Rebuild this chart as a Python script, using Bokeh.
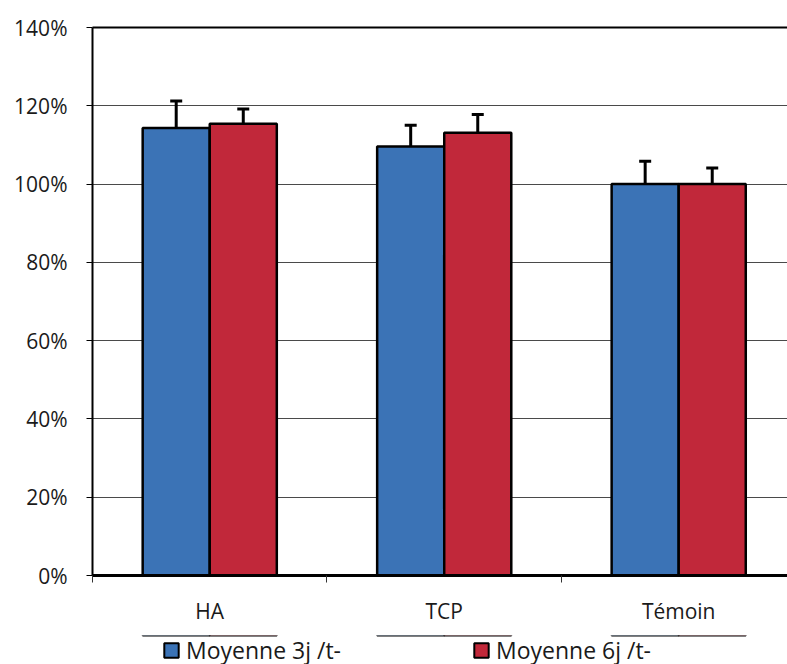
from bokeh.plotting import figure
from bokeh.layouts import column
from bokeh.models import (ColumnDataSource, Range1d, LinearAxis, FixedTicker, Whisker, TeeHead,
                          Legend, LegendItem, PrintfTickFormatter)
from bokeh.embed import file_html
from bokeh.resources import INLINE

categories = ["HA", "TCP", "Témoin"]
series_names = ["Moyenne 3j /t-", "Moyenne 6j /t-"]
mean_3j = [114.3, 109.6, 100.0]
err_3j = [6.9, 5.4, 5.8]
mean_6j = [115.4, 113.1, 100.0]
err_6j = [3.8, 4.7, 4.1]
y_ticks = [0, 20, 40, 60, 80, 100, 120, 140]

BLUE = "#3b73b6"
RED = "#c1283a"
FONT = "Open Sans"
TXT = "#1a1a1a"

bar_w = 0.286
offset = 0.143

def src(vals, errs, shift):
    return ColumnDataSource(dict(
        x=[i + 0.5 + shift for i in range(len(categories))],
        top=vals,
        upper=[v + e for v, e in zip(vals, errs)],
    ))

s3 = src(mean_3j, err_3j, -offset)
s6 = src(mean_6j, err_6j, offset)

p = figure(frame_width=695, frame_height=548, output_backend="svg", toolbar_location=None,
           x_range=Range1d(0, 2.964), y_range=Range1d(0, 140),
           min_border_left=92, min_border_right=0, min_border_top=27, min_border_bottom=60,
           x_axis_location=None, y_axis_location=None)
p.outline_line_color = None
p.background_fill_color = "white"
p.border_fill_color = "white"

# y axis
yax = LinearAxis(ticker=FixedTicker(ticks=y_ticks), formatter=PrintfTickFormatter(format="%d%%"))
yax.axis_line_width = 2
yax.axis_line_color = "black"
yax.major_tick_in = 0
yax.major_tick_out = 6
yax.major_tick_line_width = 1
yax.minor_tick_line_color = None
yax.major_label_standoff = 19
yax.major_label_text_font = FONT
yax.major_label_text_font_size = "21px"
yax.major_label_text_color = TXT
p.add_layout(yax, "left")

# x axis
centers = [i + 0.5 for i in range(len(categories))]
xax = LinearAxis(ticker=FixedTicker(ticks=centers, minor_ticks=list(range(len(categories) + 1))))
xax.major_label_overrides = {c: lab for c, lab in zip(centers, categories)}
xax.axis_line_width = 3
xax.axis_line_color = "black"
xax.major_tick_line_color = None
xax.major_tick_in = 0
xax.major_tick_out = 0
xax.minor_tick_in = 0
xax.minor_tick_out = 7
xax.minor_tick_line_width = 1
xax.minor_tick_line_color = "#333333"
xax.major_label_standoff = 14
xax.major_label_text_font = FONT
xax.major_label_text_font_size = "21px"
xax.major_label_text_color = TXT
p.add_layout(xax, "below")

# top border
tax = LinearAxis(ticker=FixedTicker(ticks=[]))
tax.axis_line_width = 2
tax.axis_line_color = "black"
tax.major_tick_line_color = None
tax.minor_tick_line_color = None
tax.major_label_text_font_size = "0px"
p.add_layout(tax, "above")

p.xgrid.visible = False
p.ygrid.ticker = FixedTicker(ticks=y_ticks)
p.ygrid.grid_line_color = "#4a4a4a"
p.ygrid.grid_line_width = 1

p.vbar(x="x", top="top", width=bar_w, bottom=0, source=s3,
       fill_color=BLUE, line_color="black", line_width=2.5)
p.vbar(x="x", top="top", width=bar_w, bottom=0, source=s6,
       fill_color=RED, line_color="black", line_width=2.5)

for s in (s3, s6):
    w = Whisker(base="x", lower="top", upper="upper", source=s, line_width=3, line_color="black",
                lower_head=None, upper_head=TeeHead(size=12, line_width=3, line_color="black"))
    p.add_layout(w)

# legend strip below the chart (its bars lie outside its view; only the legend shows)
lg = figure(width=787, height=29, output_backend="svg", toolbar_location=None,
            x_range=Range1d(0, 2.964), y_range=Range1d(-2, -1),
            min_border_left=0, min_border_right=0, min_border_top=0, min_border_bottom=0,
            x_axis_location=None, y_axis_location=None)
lg.outline_line_color = None
lg.xgrid.visible = False
lg.ygrid.visible = False
lg.background_fill_color = "white"
lg.border_fill_color = "white"
k3 = lg.vbar(x="x", top="top", bottom=0, width=bar_w, source=s3,
             fill_color=BLUE, line_color="black", line_width=2)
k6 = lg.vbar(x="x", top="top", bottom=0, width=bar_w, source=s6,
             fill_color=RED, line_color="black", line_width=2)

legend = Legend(items=[LegendItem(label=series_names[0], renderers=[k3]),
                       LegendItem(label=series_names[1], renderers=[k6])],
                orientation="horizontal", location="left", margin=70,
                glyph_width=18, glyph_height=18, label_standoff=6, label_width=286, spacing=0,
                padding=0, border_line_color=None, background_fill_alpha=0,
                label_text_font=FONT, label_text_font_size="23px", label_text_color=TXT)
lg.add_layout(legend, "center")

layout = column(p, lg, spacing=0)
open("out.html", "w").write(file_html(layout, INLINE))
